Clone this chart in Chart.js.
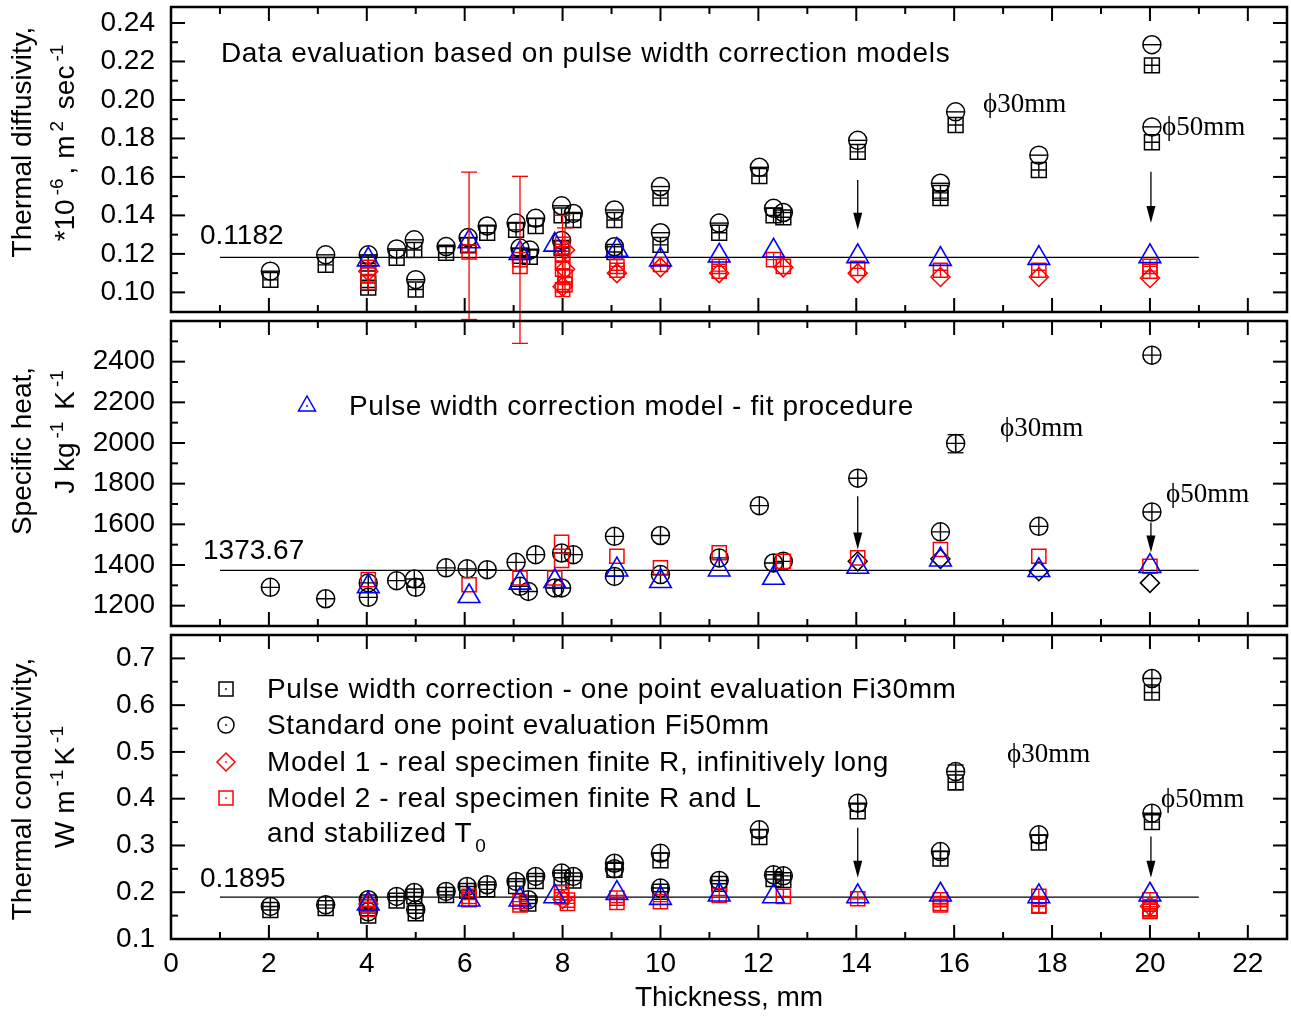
<!DOCTYPE html>
<html lang="en">
<head>
<meta charset="UTF-8">
<title>Thermal properties vs thickness</title>
<script src="https://cdn.jsdelivr.net/npm/chart.js"></script>
<style>
  body { margin: 0; background: #fff; font-family: "Liberation Sans", Arial, sans-serif; }
  #wrap { position: relative; width: 1291px; height: 1016px; overflow: hidden; }
  .panel { position: absolute; left: 0; width: 1291px; }
  .txt { position: absolute; white-space: nowrap; font-size: 28px; line-height: 28px; color: #000; transform: translateY(-50%); }
  .serif { font-family: "Liberation Serif", "Times New Roman", serif; font-size: 27px; }
  .ytitle { position: absolute; white-space: nowrap; font-size: 28px; line-height: 28px; transform: translate(-50%, -50%) rotate(-90deg); }
  .ytitle sup { font-size: 19px; vertical-align: 0; position: relative; top: -11px; margin: 0 4px; }
  .txt sub { font-size: 19px; vertical-align: 0; position: relative; top: 10px; margin-left: 3px; }
  .mk { position: absolute; }
</style>
</head>
<body>
<div id="wrap">
  <div class="panel" style="top:0;height:350px"><canvas id="diffChart"></canvas></div>
  <div class="panel" style="top:315px;height:320px"><canvas id="heatChart"></canvas></div>
  <div class="panel" style="top:625px;height:391px"><canvas id="condChart"></canvas></div>

  <div class="ytitle" style="left:22px;top:142px">Thermal diffusivity,</div>
  <div class="ytitle" style="left:66px;top:141px">*10<sup>-6</sup>, m<sup>2</sup> sec<sup>-1</sup></div>
  <div class="ytitle" style="left:22px;top:451px">Specific heat,</div>
  <div class="ytitle" style="left:66px;top:430px">J kg<sup>-1</sup> K<sup>-1</sup></div>
  <div class="ytitle" style="left:22px;top:789px">Thermal conductivity,</div>
  <div class="ytitle" style="left:66px;top:785px">W m<sup>-1</sup>K<sup>-1</sup></div>

  <div class="txt" style="left:221px;top:53px;letter-spacing:0.65px">Data evaluation based on pulse width correction models</div>
  <div class="txt" style="left:200px;top:235px">0.1182</div>
  <div class="txt serif" style="left:983px;top:103px">ϕ30mm</div>
  <div class="txt serif" style="left:1162px;top:126px">ϕ50mm</div>

  <svg class="mk" style="left:295px;top:392px" width="24" height="24"><polygon points="12,4 20.5,19 3.5,19" fill="none" stroke="#00f" stroke-width="1.5"/><circle cx="12" cy="14" r="0.9" fill="#00f"/></svg>
  <div class="txt" style="left:349px;top:406px;letter-spacing:0.6px">Pulse width correction model - fit procedure</div>
  <div class="txt" style="left:203px;top:550px">1373.67</div>
  <div class="txt serif" style="left:1000px;top:427px">ϕ30mm</div>
  <div class="txt serif" style="left:1166px;top:493px">ϕ50mm</div>

  <svg class="mk" style="left:214px;top:677px" width="24" height="24"><rect x="5" y="5" width="14" height="14" fill="none" stroke="#000" stroke-width="1.5"/><circle cx="12" cy="12" r="0.9" fill="#000"/></svg>
  <svg class="mk" style="left:214px;top:713px" width="24" height="24"><circle cx="12" cy="12" r="8" fill="none" stroke="#000" stroke-width="1.5"/><circle cx="12" cy="12" r="0.9" fill="#000"/></svg>
  <svg class="mk" style="left:214px;top:750px" width="24" height="24"><polygon points="12,3 21,12 12,21 3,12" fill="none" stroke="#f00" stroke-width="1.5"/><circle cx="12" cy="12" r="0.9" fill="#f00"/></svg>
  <svg class="mk" style="left:214px;top:786px" width="24" height="24"><rect x="5" y="5" width="14" height="14" fill="none" stroke="#f00" stroke-width="1.5"/><circle cx="12" cy="12" r="0.9" fill="#f00"/></svg>
  <div class="txt" style="left:267px;top:689px;letter-spacing:0.6px">Pulse width correction - one point evaluation Fi30mm</div>
  <div class="txt" style="left:267px;top:725px;letter-spacing:0.6px">Standard one point evaluation Fi50mm</div>
  <div class="txt" style="left:267px;top:762px;letter-spacing:0.6px">Model 1 - real specimen finite R, infinitively long</div>
  <div class="txt" style="left:267px;top:798px;letter-spacing:0.6px">Model 2 - real specimen finite R and L</div>
  <div class="txt" style="left:267px;top:834px;letter-spacing:0.6px">and stabilized T<sub>0</sub></div>
  <div class="txt" style="left:200px;top:878px">0.1895</div>
  <div class="txt serif" style="left:1007px;top:753px">ϕ30mm</div>
  <div class="txt serif" style="left:1161px;top:798px">ϕ50mm</div>
</div>

<script>
  // x axis
  const xTicks = [0, 2, 4, 6, 8, 10, 12, 14, 16, 18, 20, 22];
  const meanFrom = 1, meanTo = 21;

  // thermal diffusivity, *10^-6 m2/s  [thickness, value]
  const diffTicks = [0.10, 0.12, 0.14, 0.16, 0.18, 0.20, 0.22, 0.24];
  const diffMean = 0.1182;
  const diffPwc = [[2.03, 0.1065], [3.16, 0.1143], [4.03, 0.115], [4.03, 0.105], [4.03, 0.1025], [4.61, 0.118],
    [4.97, 0.122], [5.0, 0.1015], [5.62, 0.1206], [6.07, 0.1245], [6.46, 0.131], [7.05, 0.1325], [7.13, 0.119],
    [7.33, 0.1185], [7.45, 0.1345], [7.98, 0.140], [8.22, 0.1376], [7.98, 0.123], [9.06, 0.1376], [9.06, 0.121],
    [10.0, 0.149], [10.0, 0.1247], [11.2, 0.131], [12.02, 0.1605], [12.31, 0.140], [12.51, 0.139], [14.03, 0.173],
    [15.72, 0.1517], [15.72, 0.149], [16.03, 0.187], [17.73, 0.1636], [20.04, 0.218], [20.04, 0.178]];
  const diffStd = [[2.03, 0.111], [3.16, 0.1195], [4.03, 0.1195], [4.61, 0.1226], [4.97, 0.1273], [5.0, 0.1066],
    [5.62, 0.1238], [6.07, 0.1285], [6.46, 0.1345], [7.05, 0.136], [7.13, 0.123], [7.33, 0.122], [7.45, 0.1385],
    [7.98, 0.145], [8.22, 0.141], [7.98, 0.127], [9.06, 0.1428], [9.06, 0.1237], [10.0, 0.155], [10.0, 0.131],
    [11.2, 0.136], [12.02, 0.165], [12.31, 0.1437], [12.51, 0.1415], [14.03, 0.179], [15.72, 0.1567],
    [16.03, 0.1938], [17.73, 0.1713], [20.04, 0.2287], [20.04, 0.186]];
  const diffM1 = [[4.03, 0.111], [8.05, 0.122], [8.05, 0.112], [8.0, 0.103], [9.11, 0.110], [10.0, 0.113],
    [11.2, 0.110], [12.51, 0.113], [14.03, 0.110], [15.72, 0.108], [17.73, 0.108], [20.0, 0.1075]];
  const diffM2 = [[4.03, 0.113], [4.03, 0.109], [4.03, 0.105], [6.09, 0.121], [7.13, 0.117], [7.13, 0.1135],
    [8.0, 0.125], [8.0, 0.12], [8.0, 0.116], [8.0, 0.112], [8.05, 0.108], [8.05, 0.104], [8.0, 0.1015],
    [9.11, 0.1135], [9.11, 0.1115], [10.0, 0.1145], [11.2, 0.1135], [11.2, 0.111], [12.31, 0.117],
    [12.51, 0.1135], [14.03, 0.1125], [15.72, 0.1115], [17.73, 0.1115], [20.0, 0.1135], [20.0, 0.111]];
  const diffFit = [[4.03, 0.117], [6.09, 0.1264], [7.13, 0.1204], [7.84, 0.1247], [9.11, 0.122], [10.0, 0.117],
    [11.2, 0.119], [12.31, 0.1216], [14.03, 0.1187], [15.72, 0.1173], [17.73, 0.1178], [20.0, 0.1187]];
  const diffErr = [[6.09, 0.0859, 0.1625], [7.13, 0.0735, 0.1603], [8.0, 0.1002, 0.140], [8.05, 0.1055, 0.1335]];
  const diffArrows = [[14.03, 0.1584, 0.1325], [20.02, 0.1627, 0.136]];

  // specific heat, J/(kg K)
  const heatTicks = [1200, 1400, 1600, 1800, 2000, 2200, 2400];
  const heatMean = 1373.67;
  const heatStd = [[2.03, 1290], [3.16, 1234], [4.03, 1312], [4.03, 1241], [4.61, 1323], [4.97, 1331], [5.0, 1290],
    [5.62, 1386], [6.05, 1381], [6.46, 1377], [7.05, 1413], [7.13, 1295], [7.3, 1270], [7.45, 1451], [7.98, 1459],
    [8.22, 1451], [7.84, 1287], [7.98, 1287], [9.06, 1541], [9.06, 1344], [10.0, 1545], [10.0, 1353], [11.2, 1435],
    [12.02, 1692], [12.31, 1410], [12.51, 1418], [14.03, 1827], [15.72, 1563], [16.03, 1998], [17.73, 1590],
    [20.04, 2432], [20.04, 1661]];
  const heatM1 = [[14.03, 1418], [15.72, 1430], [17.73, 1369], [20.0, 1312]];
  const heatM2 = [[4.03, 1328], [6.09, 1303], [7.13, 1336], [7.98, 1512], [7.98, 1423], [7.84, 1336], [9.11, 1443],
    [10.0, 1386], [11.2, 1460], [12.51, 1418], [14.03, 1435], [15.72, 1476], [17.73, 1443], [20.0, 1394]];
  const heatFit = [[4.03, 1295], [6.09, 1246], [7.13, 1312], [7.84, 1320], [9.11, 1377], [10.0, 1320], [11.2, 1377],
    [12.31, 1336], [14.03, 1390], [15.72, 1426], [17.73, 1374], [20.0, 1394]];
  const heatErr = [[16.03, 1952, 2041]];
  const heatArrows = [[14.03, 1738, 1476], [20.02, 1609, 1461]];

  // thermal conductivity, W/(m K)
  const condTicks = [0.1, 0.2, 0.3, 0.4, 0.5, 0.6, 0.7];
  const condMean = 0.1895;
  const condPwc = [[2.03, 0.162], [3.16, 0.166], [4.03, 0.178], [4.03, 0.150], [4.61, 0.182], [4.97, 0.191],
    [5.0, 0.155], [5.62, 0.194], [6.05, 0.203], [6.46, 0.206], [7.05, 0.213], [7.3, 0.176], [7.45, 0.224],
    [7.98, 0.231], [8.22, 0.225], [9.06, 0.248], [10.0, 0.268], [10.0, 0.201], [11.2, 0.218], [12.02, 0.318],
    [12.31, 0.228], [12.51, 0.226], [14.03, 0.373], [15.72, 0.272], [16.03, 0.435], [17.73, 0.306],
    [20.04, 0.627], [20.04, 0.35]];
  const condStd = [[2.03, 0.1696], [3.16, 0.173], [4.03, 0.184], [4.03, 0.158], [4.61, 0.191], [4.97, 0.1995],
    [5.0, 0.1626], [5.62, 0.2017], [6.05, 0.2123], [6.46, 0.216], [7.05, 0.223], [7.3, 0.184], [7.45, 0.2337],
    [7.98, 0.241], [8.22, 0.2337], [9.06, 0.262], [9.06, 0.25], [10.0, 0.2836], [10.0, 0.209], [11.2, 0.225],
    [12.02, 0.3334], [12.31, 0.2373], [12.51, 0.235], [14.03, 0.3904], [15.72, 0.287], [16.03, 0.458],
    [17.73, 0.3227], [20.04, 0.657], [20.04, 0.369]];
  const condM1 = [[4.03, 0.175], [8.0, 0.185], [20.0, 0.17]];
  const condM2 = [[4.03, 0.170], [4.03, 0.163], [6.09, 0.191], [6.09, 0.184], [7.13, 0.173], [7.13, 0.18],
    [7.98, 0.199], [7.98, 0.190], [8.1, 0.183], [8.1, 0.176], [9.11, 0.1875], [9.11, 0.178], [10.0, 0.180],
    [11.2, 0.193], [12.51, 0.191], [14.03, 0.186], [15.72, 0.184], [15.72, 0.176], [15.72, 0.173], [17.73, 0.191],
    [17.73, 0.172], [17.73, 0.17], [20.0, 0.184], [20.0, 0.165], [20.0, 0.159], [20.0, 0.162]];
  const condFit = [[4.03, 0.1754], [6.09, 0.184], [7.13, 0.184], [7.84, 0.191], [9.11, 0.198], [10.0, 0.1875],
    [11.2, 0.1946], [12.31, 0.191], [14.03, 0.191], [15.72, 0.1946], [17.73, 0.191], [20.0, 0.1946]];
  const condErr = [[16.03, 0.419, 0.472]];
  const condArrows = [[14.03, 0.3377, 0.2309], [20.02, 0.319, 0.2309]];

  Chart.defaults.font.family = '"Liberation Sans", Arial, sans-serif';
  Chart.defaults.color = '#000';

  const BLACK = '#000000', RED = '#ff0000', BLUE = '#0000ff';

  function pts(arr) {
    return arr.map(p => ({ x: p[0], y: p[1] }));
  }

  function marks(label, arr, style, color, radius, width) {
    return {
      label: label,
      data: pts(arr),
      showLine: false,
      pointStyle: style,
      pointRadius: radius,
      pointHoverRadius: radius,
      borderColor: color,
      backgroundColor: 'rgba(0,0,0,0)',
      borderWidth: width,
      pointBorderWidth: width
    };
  }

  function meanLine(v) {
    return {
      label: 'mean',
      data: [{ x: meanFrom, y: v }, { x: meanTo, y: v }],
      showLine: true,
      borderColor: BLACK,
      borderWidth: 1.3,
      pointRadius: 0
    };
  }

  // no extra room for edge labels, the chart area is fixed by the layout padding
  function noPad(ax) {
    ax.paddingTop = 0;
    ax.paddingBottom = 0;
    ax.paddingLeft = 0;
    ax.paddingRight = 0;
  }

  // frame with inward ticks, error bars and arrows
  function extras(cfg) {
    return {
      id: 'extras',
      afterDatasetsDraw(chart) {
        const ctx = chart.ctx, a = chart.chartArea;
        const xs = chart.scales.x, ys = chart.scales.y;
        const seg = (x1, y1, x2, y2) => { ctx.beginPath(); ctx.moveTo(x1, y1); ctx.lineTo(x2, y2); ctx.stroke(); };
        ctx.save();

        cfg.err.forEach(e => {
          const px = xs.getPixelForValue(e[0]);
          const lo = ys.getPixelForValue(e[1]), hi = ys.getPixelForValue(e[2]);
          ctx.strokeStyle = cfg.errColor;
          ctx.lineWidth = 1.3;
          seg(px, lo, px, hi);
          seg(px - 8, lo, px + 8, lo);
          seg(px - 8, hi, px + 8, hi);
        });

        cfg.arrows.forEach(r => {
          const px = xs.getPixelForValue(r[0]);
          const y1 = ys.getPixelForValue(r[1]), y2 = ys.getPixelForValue(r[2]);
          ctx.strokeStyle = BLACK;
          ctx.fillStyle = BLACK;
          ctx.lineWidth = 1.3;
          seg(px, y1, px, y2 - 14);
          ctx.beginPath();
          ctx.moveTo(px, y2);
          ctx.lineTo(px - 4.5, y2 - 17);
          ctx.lineTo(px + 4.5, y2 - 17);
          ctx.closePath();
          ctx.fill();
        });

        ctx.strokeStyle = BLACK;
        ctx.lineWidth = 2.5;
        ctx.strokeRect(a.left, a.top, a.right - a.left, a.bottom - a.top);

        ctx.lineWidth = 2;
        const xMajor = xTicks[1] - xTicks[0];
        for (let v = xs.min; v <= xs.max + 1e-9; v += xMajor / 2) {
          const px = xs.getPixelForValue(v);
          if (px < a.left + 2 || px > a.right - 2) continue;
          const len = Math.abs(v / xMajor - Math.round(v / xMajor)) < 1e-6 ? 14 : 7;
          seg(px, a.bottom, px, a.bottom - len);
          seg(px, a.top, px, a.top + len);
        }
        const t = cfg.yTicks, step = t[1] - t[0];
        for (let v = t[0] - step; v <= t[t.length - 1] + step + 1e-9; v += step / 2) {
          const py = ys.getPixelForValue(v);
          if (py < a.top + 2 || py > a.bottom - 2) continue;
          const k = (v - t[0]) / step;
          const len = Math.abs(k - Math.round(k)) < 1e-6 ? 14 : 7;
          seg(a.left, py, a.left + len, py);
          seg(a.right, py, a.right - len, py);
        }
        ctx.restore();
      }
    };
  }

  function makeChart(id, datasets, y, padding, xHeight, showX, cfg) {
    return new Chart(document.getElementById(id), {
      type: 'scatter',
      data: { datasets: datasets },
      options: {
        responsive: true,
        maintainAspectRatio: false,
        animation: false,
        events: [],
        layout: { padding: padding, autoPadding: false },
        plugins: { legend: { display: false }, tooltip: { enabled: false } },
        scales: {
          x: {
            type: 'linear',
            min: 0,
            max: 22.8,
            afterBuildTicks: ax => { ax.ticks = xTicks.map(v => ({ value: v })); },
            afterFit: ax => { ax.height = xHeight; noPad(ax); },
            grid: { display: false, drawTicks: false },
            border: { display: false },
            ticks: { display: showX, font: { size: 28 }, padding: 8, maxRotation: 0, autoSkip: false, color: BLACK },
            title: { display: showX, text: 'Thickness, mm', font: { size: 28 }, padding: { top: 0, bottom: 1 }, color: BLACK }
          },
          y: {
            type: 'linear',
            min: y.min,
            max: y.max,
            afterBuildTicks: ax => { ax.ticks = cfg.yTicks.map(v => ({ value: v })); },
            afterFit: ax => { ax.width = 171; noPad(ax); },
            grid: { display: false, drawTicks: false },
            border: { display: false },
            ticks: { font: { size: 28 }, padding: 16, color: BLACK, callback: v => v.toFixed(y.dec) }
          }
        }
      },
      plugins: [extras(cfg)]
    });
  }

  makeChart('diffChart', [
    marks('Pulse width correction model - fit procedure', diffFit, 'triangle', BLUE, 12.5, 1.6),
    marks('Model 2 bar', diffM2, 'cross', RED, 6.5, 1.3),
    marks('Model 2 - real specimen finite R and L', diffM2, 'rect', RED, 10, 1.5),
    marks('Model 1 - real specimen finite R, infinitively long', diffM1, 'rectRot', RED, 9.5, 1.5),
    marks('Std bar', diffStd, 'line', BLACK, 9, 1.4),
    marks('Standard one point evaluation Fi50mm', diffStd, 'circle', BLACK, 9, 1.5),
    marks('PWC bar', diffPwc, 'cross', BLACK, 7, 1.4),
    marks('Pulse width correction - one point evaluation Fi30mm', diffPwc, 'rect', BLACK, 10.5, 1.5),
    meanLine(diffMean)
  ], { min: 0.0898, max: 0.2483, dec: 2 }, { top: 7, right: 4, bottom: 38, left: 0 }, 0, false,
    { yTicks: diffTicks, err: diffErr, errColor: RED, arrows: diffArrows });

  makeChart('heatChart', [
    marks('Pulse width correction model - fit procedure', heatFit, 'triangle', BLUE, 12.5, 1.6),
    marks('Model 2 - real specimen finite R and L', heatM2, 'rect', RED, 10, 1.5),
    marks('Model 1 - real specimen finite R, infinitively long', heatM1, 'rectRot', BLACK, 9.5, 1.5),
    marks('Std bar', heatStd, 'cross', BLACK, 9, 1.4),
    marks('Standard one point evaluation Fi50mm', heatStd, 'circle', BLACK, 9, 1.5),
    meanLine(heatMean)
  ], { min: 1100, max: 2600, dec: 0 }, { top: 6, right: 4, bottom: 9, left: 0 }, 0, false,
    { yTicks: heatTicks, err: heatErr, errColor: BLACK, arrows: heatArrows });

  makeChart('condChart', [
    marks('Pulse width correction model - fit procedure', condFit, 'triangle', BLUE, 12.5, 1.6),
    marks('Model 2 bar', condM2, 'cross', RED, 6.5, 1.3),
    marks('Model 2 - real specimen finite R and L', condM2, 'rect', RED, 10, 1.5),
    marks('Model 1 - real specimen finite R, infinitively long', condM1, 'rectRot', RED, 9.5, 1.5),
    marks('Std bar', condStd, 'cross', BLACK, 9, 1.4),
    marks('Standard one point evaluation Fi50mm', condStd, 'circle', BLACK, 9, 1.5),
    marks('PWC bar', condPwc, 'cross', BLACK, 7, 1.4),
    marks('Pulse width correction - one point evaluation Fi30mm', condPwc, 'rect', BLACK, 10.5, 1.5),
    meanLine(condMean)
  ], { min: 0.1, max: 0.75, dec: 1 }, { top: 10, right: 4, bottom: 0, left: 0 }, 77, true,
    { yTicks: condTicks, err: condErr, errColor: BLACK, arrows: condArrows });
</script>
</body>
</html>
